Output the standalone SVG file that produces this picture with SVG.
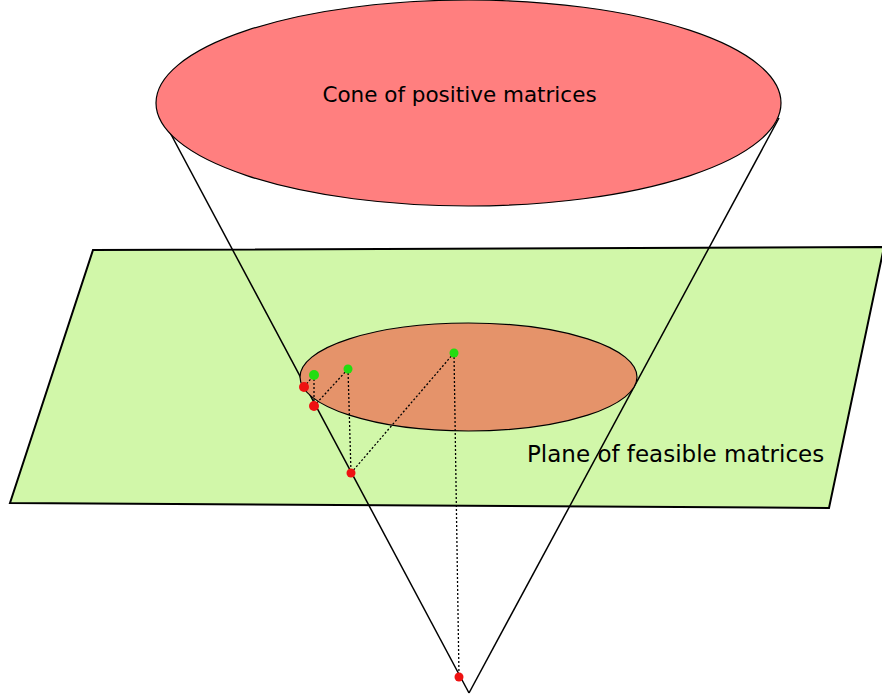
<svg xmlns="http://www.w3.org/2000/svg" width="882" height="698" viewBox="0 0 882 698">
<style>
.lbl{font-family:"DejaVu Sans",sans-serif;fill:#000}
.edge{stroke:#000;stroke-width:1.5;fill:none}
.dot{stroke:#000;stroke-width:1.3;stroke-dasharray:2,2;fill:none}
.g{fill:#22dd11}
.r{fill:#ee1111}
</style>
<rect width="882" height="698" fill="#fff"/>
<g id="plane">
<polygon points="93,250 884,247 829,508 10,503" fill="#d1f7a9" stroke="#000" stroke-width="2"/>
<text class="lbl" x="527" y="462" font-size="23">Plane of feasible matrices</text>
</g>
<g id="connectors">
<line class="edge" x1="158" y1="110" x2="469" y2="693"/>
<line class="edge" x1="779" y1="118" x2="469" y2="693"/>
</g>
<g id="section">
<ellipse cx="468.5" cy="377" rx="168.5" ry="54" fill="#e5936a" stroke="#000" stroke-width="1.2"/>
</g>
<g id="cone-top">
<ellipse cx="468.5" cy="103" rx="312.5" ry="103" fill="#ff7f7f" stroke="#000" stroke-width="1.2"/>
<text class="lbl" x="459.5" y="102" font-size="21.5" text-anchor="middle">Cone of positive matrices</text>
</g>
<g id="projections">
<path class="dot" d="M304,387 L314,375 M314,375 L314,406 M314,406 L348,369 M348,369 L351,473 M351,473 L454,353 M454,353 L459,677"/>
</g>
<g id="points">
<circle class="g" cx="314" cy="375" r="5"/>
<circle class="g" cx="348" cy="369" r="4.5"/>
<circle class="g" cx="454" cy="353" r="4.5"/>
<circle class="r" cx="304" cy="387" r="5"/>
<circle class="r" cx="314" cy="406" r="5"/>
<circle class="r" cx="351" cy="473" r="4.5"/>
<circle class="r" cx="459" cy="677" r="4.5"/>
</g>
</svg>
